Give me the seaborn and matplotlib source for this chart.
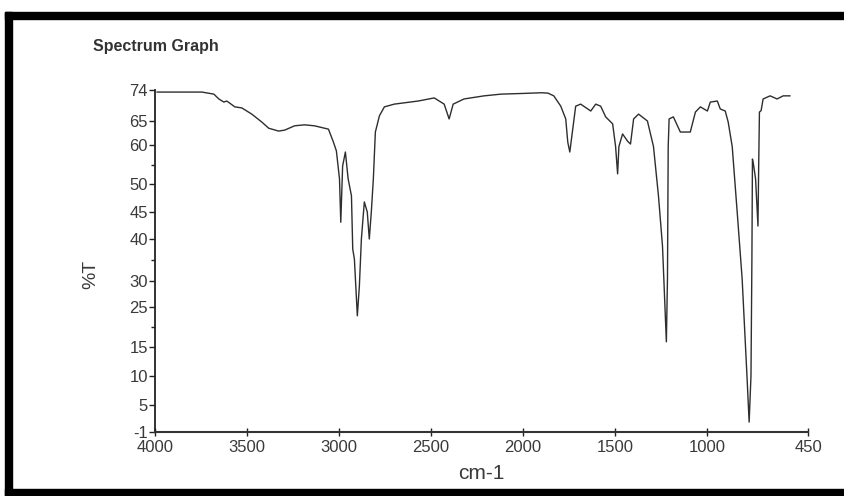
import numpy as np
import pandas as pd
import matplotlib
matplotlib.use("Agg")
import matplotlib.pyplot as plt
from matplotlib.patches import Rectangle
import seaborn as sns

# ---------------- data ----------------
wavenumber = [3990, 3745, 3680, 3653, 3626, 3610, 3594, 3566, 3528, 3474,
              3420, 3382, 3328, 3295, 3241, 3187, 3133, 3057, 3030, 3014,
              2997, 2990, 2980, 2965, 2950, 2932, 2925, 2916, 2900, 2889,
              2878, 2862, 2846, 2835, 2824, 2813, 2802, 2780, 2753, 2699,
              2569, 2482, 2428, 2401, 2379, 2320, 2211, 2119, 2000, 1900,
              1864, 1832, 1794, 1767, 1756, 1745, 1729, 1713, 1686, 1631,
              1604, 1577, 1550, 1512, 1496, 1485, 1478, 1458, 1431, 1415,
              1398, 1371, 1323, 1290, 1263, 1241, 1230, 1220, 1214, 1210,
              1205, 1182, 1144, 1090, 1062, 1035, 997, 981, 943, 927,
              900, 884, 862, 835, 808, 781, 770, 760, 755, 752,
              745, 735, 722, 718, 714, 705, 694, 656, 618, 585, 547]
transmittance = [73.4, 73.4, 72.8, 71.4, 70.5, 70.8, 70.2, 69.1, 68.8, 67.0,
                 64.8, 63.5, 62.9, 63.1, 64.0, 64.2, 64.0, 63.3, 60.6, 58.5,
                 51.3, 43.1, 54.6, 58.2, 51.3, 47.9, 37.6, 35.2, 22.8, 29.0,
                 40.0, 46.8, 45.0, 40.0, 45.0, 51.3, 62.7, 66.5, 69.1, 69.9,
                 70.8, 71.7, 69.9, 65.6, 69.9, 71.4, 72.3, 72.8, 73.0, 73.2,
                 73.1, 72.3, 69.3, 65.6, 60.6, 58.2, 63.3, 69.3, 69.9, 67.9,
                 69.9, 69.3, 66.2, 64.4, 59.6, 52.6, 59.6, 62.3, 60.8, 60.2,
                 65.6, 67.0, 65.0, 59.6, 47.9, 38.3, 27.1, 16.3, 30.5, 59.6,
                 65.6, 66.2, 62.7, 62.7, 67.6, 69.1, 67.9, 70.5, 70.8, 68.5,
                 67.9, 64.8, 59.6, 45.0, 30.5, 9.5, 1.2, 10.0, 35.0, 56.4,
                 54.6, 51.3, 42.4, 55.0, 67.6, 68.0, 71.4, 72.3, 71.4, 72.3, 72.3]

x_tick_values = [4000, 3500, 3000, 2500, 2000, 1500, 1000, 450]
y_tick_values = [-1, 5, 10, 15, 25, 30, 40, 45, 50, 60, 65, 74]
y_minor_values = [20, 35, 55]

# ---------------- non-linear %T axis of the original instrument ----------------
scale_values = [-50, -1, 5, 10, 15, 25, 30, 40, 45, 50, 60, 65, 74, 150]
scale_offsets = [-220.5, 0, 27, 56, 85, 125, 151, 193, 220, 248, 287, 311, 342, 684]


def fwd(v):
    return np.interp(v, scale_values, scale_offsets)


def inv(p):
    return np.interp(p, scale_offsets, scale_values)


# ---------------- figure ----------------
sns.set_style("ticks")
plt.rcParams["font.family"] = ["Liberation Sans", "DejaVu Sans"]

W, H = 844, 496
fig = plt.figure(figsize=(W / 100, H / 100), dpi=100)
fig.patch.set_facecolor("white")

ax = fig.add_axes([155 / W, (H - 432) / H, 653 / W, 342 / H])

df = pd.DataFrame({"cm-1": wavenumber, "%T": transmittance})
sns.lineplot(data=df, x="cm-1", y="%T", sort=False, estimator=None,
             color="#2e2e2e", linewidth=1.0, ax=ax)

ax.set_yscale("function", functions=(fwd, inv))
ax.set_xlim(4000, 450)
ax.set_ylim(-1, 74)

ax.set_xticks(x_tick_values)
ax.set_xticklabels([str(v) for v in x_tick_values])
ax.set_yticks(y_tick_values)
ax.set_yticklabels([str(v) for v in y_tick_values])
ax.set_yticks(y_minor_values, minor=True)

for s in ["top", "right"]:
    ax.spines[s].set_visible(False)
ax.spines["left"].set_linewidth(1.3)
ax.spines["bottom"].set_linewidth(1.5)
ax.spines["left"].set_color("#222222")
ax.spines["bottom"].set_color("#333333")

ax.tick_params(axis="x", direction="inout", length=6, width=1, colors="#222222",
               labelsize=12, labelcolor="#3a3a3a", pad=3)
ax.tick_params(axis="y", which="major", direction="out", length=4, width=1,
               colors="#222222", labelsize=12, labelcolor="#3a3a3a", pad=1)
ax.tick_params(axis="y", which="minor", direction="out", length=3, width=1,
               colors="#222222")

ax.set_xlabel("cm-1", fontsize=15, color="#3a3a3a", labelpad=6)
ax.set_ylabel("%T", fontsize=14, color="#3a3a3a")
ax.yaxis.set_label_coords(-0.085, 0.46)
ax.set_facecolor("white")

fig.text(93 / W, 1 - 46 / H, "Spectrum Graph", fontsize=11.5, fontweight="bold",
         color="#333333", va="center", ha="left")

# black scan border
fig.add_artist(Rectangle((5 / W, 0), 7 / W, 1 - 12 / H, transform=fig.transFigure,
                         color="black", zorder=10))
fig.add_artist(Rectangle((5 / W, 1 - 19 / H), 1, 7 / H, transform=fig.transFigure,
                         color="black", zorder=10))
fig.add_artist(Rectangle((5 / W, 0), 1, 7 / H, transform=fig.transFigure,
                         color="black", zorder=10))

fig.savefig("out.png", dpi=100, facecolor="white")
